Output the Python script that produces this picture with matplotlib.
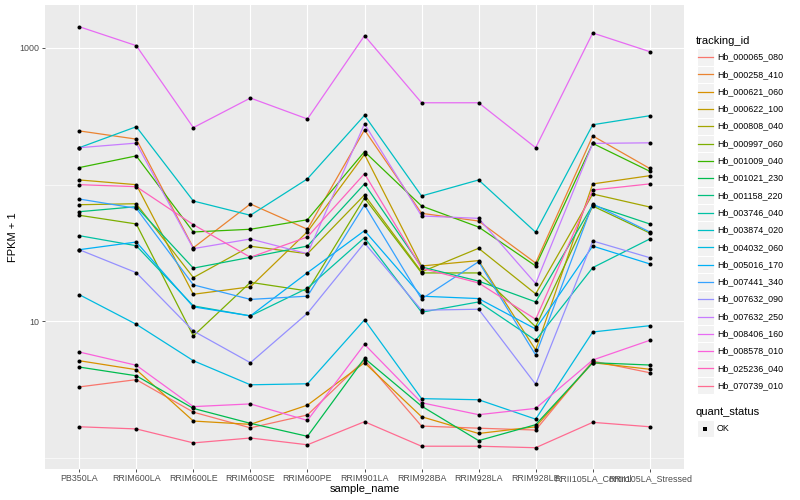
"""
FPKM + 1 per sample for a set of tracking ids, ggplot-like look.
"""

import matplotlib
matplotlib.use('Agg')

import numpy as np
import matplotlib.pyplot as plt
from matplotlib.patches import Rectangle
from matplotlib.ticker import FixedLocator, NullFormatter

plt.rcParams['font.family'] = ['Liberation Sans', 'DejaVu Sans']

samples = ['PB350LA', 'RRIM600LA', 'RRIM600LE', 'RRIM600SE', 'RRIM600PE',
           'RRIM901LA', 'RRIM928BA', 'RRIM928LA', 'RRIM928LE',
           'RRII105LA_Control', 'RRII105LA_Stressed']

tracking_ids = ['Hb_000065_080', 'Hb_000258_410', 'Hb_000621_060', 'Hb_000622_100',
                'Hb_000808_040', 'Hb_000997_060', 'Hb_001009_040', 'Hb_001021_230',
                'Hb_001158_220', 'Hb_003746_040', 'Hb_003874_020', 'Hb_004032_060',
                'Hb_005016_170', 'Hb_007441_340', 'Hb_007632_090', 'Hb_007632_250',
                'Hb_008406_160', 'Hb_008578_010', 'Hb_025236_040', 'Hb_070739_010']

# FPKM + 1, one list per tracking id (same order as samples)
hb_000065_080 = [3.29, 3.72, 2.15, 1.65, 2.05, 5.18, 1.70, 1.64, 1.59, 5.09, 4.18]
hb_000258_410 = [247, 215, 34.4, 72.0, 47.0, 251, 61.5, 54.0, 26.6, 227, 131]
hb_000621_060 = [5.12, 4.40, 1.85, 1.75, 2.42, 4.95, 1.99, 1.50, 1.68, 4.95, 4.43]
hb_000622_100 = [108, 99.7, 15.7, 17.8, 45.1, 166, 25.3, 27.7, 6.13, 101, 116]
hb_000808_040 = [71.1, 72.3, 20.8, 35.3, 31.1, 83.8, 22.9, 34.1, 15.8, 85.2, 68.4]
hb_000997_060 = [59.5, 51.4, 7.77, 19.2, 16.6, 79.6, 22.5, 22.5, 9.08, 69.6, 44.1]
hb_001009_040 = [133, 162, 44.9, 47.0, 55.2, 174, 69.6, 48.8, 25.3, 200, 125]
hb_001021_230 = [4.60, 3.97, 2.29, 1.78, 1.43, 5.33, 2.38, 1.33, 1.74, 4.95, 4.76]
hb_001158_220 = [63.2, 68.8, 24.4, 29.3, 35.4, 101, 24.9, 19.6, 13.8, 70.8, 51.4]
hb_003746_040 = [42.2, 35.6, 12.9, 10.9, 17.4, 40.8, 11.6, 13.8, 7.22, 24.6, 39.9]
hb_003874_020 = [186, 265, 75.7, 59.5, 110, 321, 82.4, 108, 44.7, 274, 319]
hb_004032_060 = [15.6, 9.46, 5.12, 3.41, 3.47, 10.2, 2.70, 2.65, 1.91, 8.31, 9.24]
hb_005016_170 = [33.3, 37.9, 12.7, 10.9, 22.6, 45.9, 15.2, 14.6, 8.74, 35.4, 26.2]
hb_007441_340 = [78.3, 66.9, 18.4, 14.4, 15.2, 70.8, 14.5, 27.2, 5.63, 72.0, 44.9]
hb_007632_090 = [33.3, 22.6, 8.45, 4.95, 11.4, 37.3, 12.0, 12.2, 3.44, 38.6, 29.1]
hb_007632_250 = [186, 201, 33.9, 39.9, 31.1, 278, 58.8, 56.5, 18.8, 200, 202]
hb_008406_160 = [1432, 1040, 261, 430, 302, 1231, 397, 397, 186, 1288, 940]
hb_008578_010 = [5.93, 4.74, 2.36, 2.47, 1.87, 6.75, 2.52, 2.06, 2.29, 5.18, 7.22]
hb_025236_040 = [99.7, 96.4, 50.8, 29.3, 41.3, 120, 24.4, 19.0, 10.3, 91.1, 101]
hb_070739_010 = [1.68, 1.62, 1.28, 1.39, 1.24, 1.83, 1.21, 1.21, 1.18, 1.81, 1.68]

series = [hb_000065_080, hb_000258_410, hb_000621_060, hb_000622_100,
          hb_000808_040, hb_000997_060, hb_001009_040, hb_001021_230,
          hb_001158_220, hb_003746_040, hb_003874_020, hb_004032_060,
          hb_005016_170, hb_007441_340, hb_007632_090, hb_007632_250,
          hb_008406_160, hb_008578_010, hb_025236_040, hb_070739_010]

# ggplot2 default hue palette for 20 levels
colors = ['#F8766D', '#EA8331', '#D89000', '#C09B00', '#A3A500', '#7CAE00',
          '#39B600', '#00BB4E', '#00BF7D', '#00C1A3', '#00BFC4', '#00BAE0',
          '#00B0F6', '#35A2FF', '#9590FF', '#C77CFF', '#E76BF3', '#FA62DB',
          '#FF62BC', '#FF6C91']

W, H = 800, 500
fig = plt.figure(figsize=(8, 5), dpi=100)
ax = fig.add_axes([45 / W, 1 - 468.5 / H, (684 - 45) / W, (468.5 - 5) / H])
ax.set_facecolor('#EBEBEB')
for s in ax.spines.values():
    s.set_visible(False)

x = np.arange(len(samples))
for vals, col in zip(series, colors):
    ax.plot(x, vals, color=col, lw=0.9, zorder=2)
for vals in series:
    ax.plot(x, vals, 'o', color='black', ms=2.9, mew=0, zorder=3)

ax.set_yscale('log')
ax.set_ylim(0.831, 2065)
ax.set_xlim(-0.6, len(samples) - 0.4)
ax.yaxis.set_major_locator(FixedLocator([10, 1000]))
ax.yaxis.set_minor_locator(FixedLocator([1, 100]))
ax.yaxis.set_minor_formatter(NullFormatter())
ax.set_yticklabels(['10', '1000'])
ax.set_xticks(x)
ax.set_xticklabels(samples)

ax.grid(True, which='major', color='white', lw=0.85, zorder=0)
ax.grid(True, which='minor', axis='y', color='white', lw=0.45, zorder=0)
ax.set_axisbelow(True)
ax.tick_params(axis='both', which='major', length=2.2, width=0.6, color='#333333',
               labelsize=6.4, labelcolor='#4D4D4D', pad=1.6)
ax.tick_params(axis='y', which='minor', length=0)

ax.set_xlabel('sample_name', fontsize=8, labelpad=1)
ax.set_ylabel('FPKM + 1', fontsize=8, labelpad=1)

# legend drawn by hand in pixel coordinates
leg = fig.add_axes([0, 0, 1, 1], zorder=5)
leg.set_xlim(0, W)
leg.set_ylim(H, 0)
leg.axis('off')

leg.text(696, 41, 'tracking_id', fontsize=8, va='center', ha='left')
y0, dy = 57.0, 17.3
for i, (name, col) in enumerate(zip(tracking_ids, colors)):
    yc = y0 + i * dy
    leg.add_patch(Rectangle((696.5, yc - dy / 2), 17, dy, facecolor='#F2F2F2',
                            edgecolor='white', lw=0.8))
    leg.plot([697.5, 712.5], [yc, yc], color=col, lw=0.9)
    leg.text(717, yc, name, fontsize=6.4, va='center', ha='left')

leg.text(696, 412, 'quant_status', fontsize=8, va='center', ha='left')
leg.add_patch(Rectangle((696.5, 428.7 - dy / 2), 17, dy, facecolor='#F2F2F2',
                        edgecolor='white', lw=0.8))
leg.plot([705], [428.7], 's', color='black', ms=2.6, mew=0)
leg.text(717, 428.7, 'OK', fontsize=6.4, va='center', ha='left')

fig.savefig('out.png', dpi=100)
